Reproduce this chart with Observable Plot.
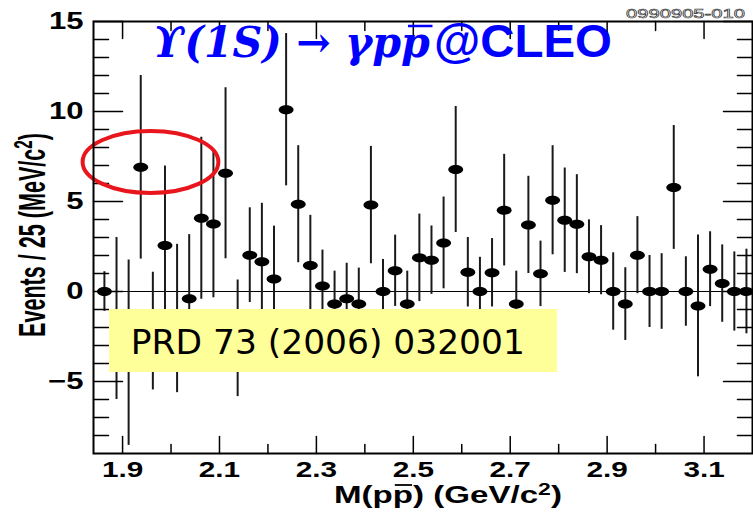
<!DOCTYPE html>
<html>
<head>
<meta charset="utf-8">
<script src="https://cdn.jsdelivr.net/npm/d3@7"></script>
<script src="https://cdn.jsdelivr.net/npm/@observablehq/plot@0.6"></script>
<style>
  html, body { margin: 0; padding: 0; background: #fff; }
  #chart { width: 753px; height: 514px; }
</style>
</head>
<body>
<div id="chart"></div>
<script>
// Bin centres of M(p pbar) in GeV/c^2 (25 MeV bins)
const masses = [
  1.8625, 1.8875, 1.9125, 1.9375, 1.9625, 1.9875,
  2.0125, 2.0375, 2.0625, 2.0875, 2.1125, 2.1375, 2.1625, 2.1875,
  2.2125, 2.2375, 2.2625, 2.2875, 2.3125, 2.3375, 2.3625, 2.3875,
  2.4125, 2.4375, 2.4625, 2.4875, 2.5125, 2.5375, 2.5625, 2.5875,
  2.6125, 2.6375, 2.6625, 2.6875, 2.7125, 2.7375, 2.7625, 2.7875,
  2.8125, 2.8375, 2.8625, 2.8875, 2.9125, 2.9375, 2.9625, 2.9875,
  3.0125, 3.0375, 3.0625, 3.0875, 3.1125, 3.1375, 3.1625, 3.1875
];
// Background-subtracted events per bin
const events = [
  0, -1.5, -3.4, 6.9, -2.2, 2.55,
  -1.5, -0.4, 4.07, 3.75, 6.57, -2.6, 2.02, 1.65,
  0.7, 10.1, 4.85, 1.45, 0.3, -0.7, -0.4, -0.7,
  4.8, 0, 1.15, -0.7, 1.87, 1.74, 2.7, 6.78,
  1.07, 0, 1.04, 4.52, -0.69, 3.7, 0.98, 5.07,
  3.96, 3.74, 1.93, 1.74, 0, -0.7, 2.02, 0,
  0, 5.78, 0, -0.8, 1.24, 0.44, 0, 0
];
// Statistical uncertainty per bin
const errors = [
  1.1, 4.5, 5.15, 5.1, 3.27, 4.42,
  4.12, 3.56, 4.5, 4.1, 4.75, 3.24, 2.63, 3.25,
  2.93, 4.23, 3.25, 2.78, 2.0, 1.83, 1.97, 2.0,
  3.26, 1.78, 1.98, 1.83, 2.43, 1.9, 2.55, 3.5,
  1.93, 1.9, 1.9, 3.1, 1.82, 2.7, 1.82, 3.03,
  2.9, 2.75, 2.05, 1.92, 2.15, 2.02, 2.14, 2.0,
  2.1, 3.44, 1.93, 3.94, 2.08, 2.15, 2.2, 2.35
];

// Axis ticks
const xMajorTicks = [1.9, 2.1, 2.3, 2.5, 2.7, 2.9, 3.1];
const xMinorTicks = [2.0, 2.2, 2.4, 2.6, 2.8, 3.0];
const yMajorTicks = [-5, 0, 5, 10, 15];
const yMinorTicks = [-8, -7, -6, -4, -3, -2, -1, 1, 2, 3, 4, 6, 7, 8, 9, 11, 12, 13, 14];

// Annotations
const refBox = [{x1: 1.873, x2: 2.7975, y1: -4.5, y2: -1.0}];
const refLabel = [{x: 1.917, y: -3.45, text: "PRD 73 (2006) 032001"}];
const highlight = [{x: 1.9576, y: 7.2}];

const data = masses.map((m, i) => ({mass: m, events: events[i], err: errors[i]}));

// Inward tick drawn as a straight segment
const tickShape = {draw(ctx, l) { ctx.moveTo(0, 0); ctx.lineTo(0, -l); }};

// Horizontally elongated ellipse symbol
function ellipse(ratio) {
  return {
    draw(ctx, size) {
      const r = Math.sqrt(size / Math.PI), rx = r * ratio, ry = r, k = 0.5523;
      ctx.moveTo(rx, 0);
      ctx.bezierCurveTo(rx, ry * k, rx * k, ry, 0, ry);
      ctx.bezierCurveTo(-rx * k, ry, -rx, ry * k, -rx, 0);
      ctx.bezierCurveTo(-rx, -ry * k, -rx * k, -ry, 0, -ry);
      ctx.bezierCurveTo(rx * k, -ry, rx, -ry * k, rx, 0);
      ctx.closePath();
    }
  };
}

const sans = "'Liberation Sans', Arial, Helvetica, sans-serif";

const svg = Plot.plot({
  width: 753,
  height: 514,
  marginLeft: 93,
  marginRight: 1,
  marginTop: 21,
  marginBottom: 61,
  style: {fontFamily: sans, background: "#fff", color: "#000"},
  x: {domain: [1.84, 3.2]},
  y: {domain: [-9, 15]},
  marks: [
    Plot.ruleY([0], {stroke: "#000", strokeWidth: 1}),
    Plot.ruleX(data, {x: "mass", y1: d => d.events - d.err, y2: d => d.events + d.err, stroke: "#1a1a1a", strokeWidth: 2}),
    Plot.dot(data, {x: "mass", y: "events", r: 4.5, symbol: ellipse(1.65), fill: "#000", stroke: "none"}),
    // inward ticks on all four sides
    Plot.vectorY(yMajorTicks, {frameAnchor: "left", rotate: 90, length: 29, anchor: "start", shape: tickShape, stroke: "#000", strokeWidth: 1.5}),
    Plot.vectorY(yMinorTicks, {frameAnchor: "left", rotate: 90, length: 15, anchor: "start", shape: tickShape, stroke: "#000", strokeWidth: 1.5}),
    Plot.vectorY(yMajorTicks, {frameAnchor: "right", rotate: -90, length: 29, anchor: "start", shape: tickShape, stroke: "#000", strokeWidth: 1.5}),
    Plot.vectorY(yMinorTicks, {frameAnchor: "right", rotate: -90, length: 15, anchor: "start", shape: tickShape, stroke: "#000", strokeWidth: 1.5}),
    Plot.vectorX(xMajorTicks, {frameAnchor: "bottom", rotate: 0, length: 17, anchor: "start", shape: tickShape, stroke: "#000", strokeWidth: 1.5}),
    Plot.vectorX(xMinorTicks, {frameAnchor: "bottom", rotate: 0, length: 9, anchor: "start", shape: tickShape, stroke: "#000", strokeWidth: 1.5}),
    Plot.vectorX(xMajorTicks, {frameAnchor: "top", rotate: 180, length: 17, anchor: "start", shape: tickShape, stroke: "#000", strokeWidth: 1.5}),
    Plot.vectorX(xMinorTicks, {frameAnchor: "top", rotate: 180, length: 9, anchor: "start", shape: tickShape, stroke: "#000", strokeWidth: 1.5}),
    Plot.axisY(yMajorTicks, {anchor: "left", tickSize: 0, tickPadding: 10, label: null, fontSize: 23, fontWeight: "bold"}),
    Plot.axisX(xMajorTicks, {anchor: "bottom", tickSize: 0, tickPadding: 8, label: null, tickFormat: d3.format(".1f"), fontSize: 22, fontWeight: "bold"}),
    Plot.rect(refBox, {x1: "x1", x2: "x2", y1: "y1", y2: "y2", fill: "#ffff99"}),
    Plot.text(refLabel, {x: "x", y: "y", text: "text", textAnchor: "start", lineAnchor: "bottom", fontSize: 34, fontFamily: "'Comic Sans MS', 'DejaVu Sans', sans-serif", fill: "#000"}),
    Plot.dot(highlight, {x: "x", y: "y", r: 31, symbol: ellipse(2.19), fill: "none", stroke: "#e8161c", strokeWidth: 4}),
    Plot.frame({stroke: "#000", strokeWidth: 2})
  ]
});

document.getElementById("chart").appendChild(svg);
const root = d3.select(svg);

// ROOT-style wide tick labels
root.selectAll('g[aria-label="y-axis tick label"] text, g[aria-label="x-axis tick label"] text').each(function() {
  const w = this.getComputedTextLength();
  this.setAttribute("textLength", w * 1.35);
  this.setAttribute("lengthAdjust", "spacingAndGlyphs");
});
root.selectAll("text").filter(function() { return this.textContent.startsWith("PRD"); })
  .attr("textLength", 394).attr("lengthAdjust", "spacingAndGlyphs");

// A text label inside its own group, baseline at local y = 0
function label(font) {
  const g = root.append("g");
  const t = g.append("text").attr("text-anchor", "start").attr("x", 0).attr("y", 0);
  for (const [k, v] of Object.entries(font)) t.attr(k, v);
  return {g, t};
}
// Bar over one character of a label
function bar(lab, index, height, width, color, skew = 0) {
  const r = lab.t.node().getExtentOfChar(index);
  lab.g.append("line")
    .attr("x1", r.x + r.width * 0.1 + skew).attr("x2", r.x + r.width * 0.95 + skew)
    .attr("y1", -height).attr("y2", -height)
    .attr("stroke", color).attr("stroke-width", width);
}
// Stretch a label horizontally to a given width and place it
function place(lab, x, y, width) {
  const w = lab.t.node().getBBox().width;
  lab.g.attr("transform", `translate(${x},${y}) scale(${width / w},1)`);
}

// x-axis title
const xt = label({"font-family": sans, "font-weight": "bold", "font-size": 23, fill: "#000"});
xt.t.append("tspan").text("M(pp) (GeV/c");
xt.t.append("tspan").attr("dy", -8).attr("font-size", 16).text("2");
xt.t.append("tspan").attr("dy", 8).text(")");
bar(xt, 3, 18, 1.8, "#000");
place(xt, 334, 503, 228);

// y-axis title
const yt = root.append("text")
  .attr("text-anchor", "middle")
  .attr("font-family", sans).attr("font-weight", "bold").attr("font-size", 27)
  .attr("fill", "#000");
yt.append("tspan").text("Events / 25 (MeV/c");
yt.append("tspan").attr("dy", -10).attr("font-size", 19).text("2");
yt.append("tspan").attr("dy", 10).text(")");
const yw = yt.node().getBBox().width;
yt.attr("transform", `translate(45,235) scale(1.35,${204 / yw}) rotate(-90)`);

// Title
const t1 = label({"font-family": "'DejaVu Serif', serif", "font-style": "italic", "font-weight": "bold", "font-size": 42, fill: "#0000ff"});
t1.t.text("\u03D2(1S) \u2192 \u03B3pp");
bar(t1, 10, 31, 2.5, "#0000ff", 4);
place(t1, 153, 57, 277);

const t2 = label({"font-family": sans, "font-weight": "bold", "font-size": 46, fill: "#0000ff"});
t2.t.text("@CLEO");
place(t2, 434, 57, 178);

// Figure id
root.append("text")
  .attr("x", 626).attr("y", 18).attr("text-anchor", "start")
  .attr("font-family", sans).attr("font-size", 13)
  .attr("fill", "#fff").attr("stroke", "#333").attr("stroke-width", 0.6)
  .attr("textLength", 119).attr("lengthAdjust", "spacingAndGlyphs")
  .text("0990905-010");
</script>
</body>
</html>
